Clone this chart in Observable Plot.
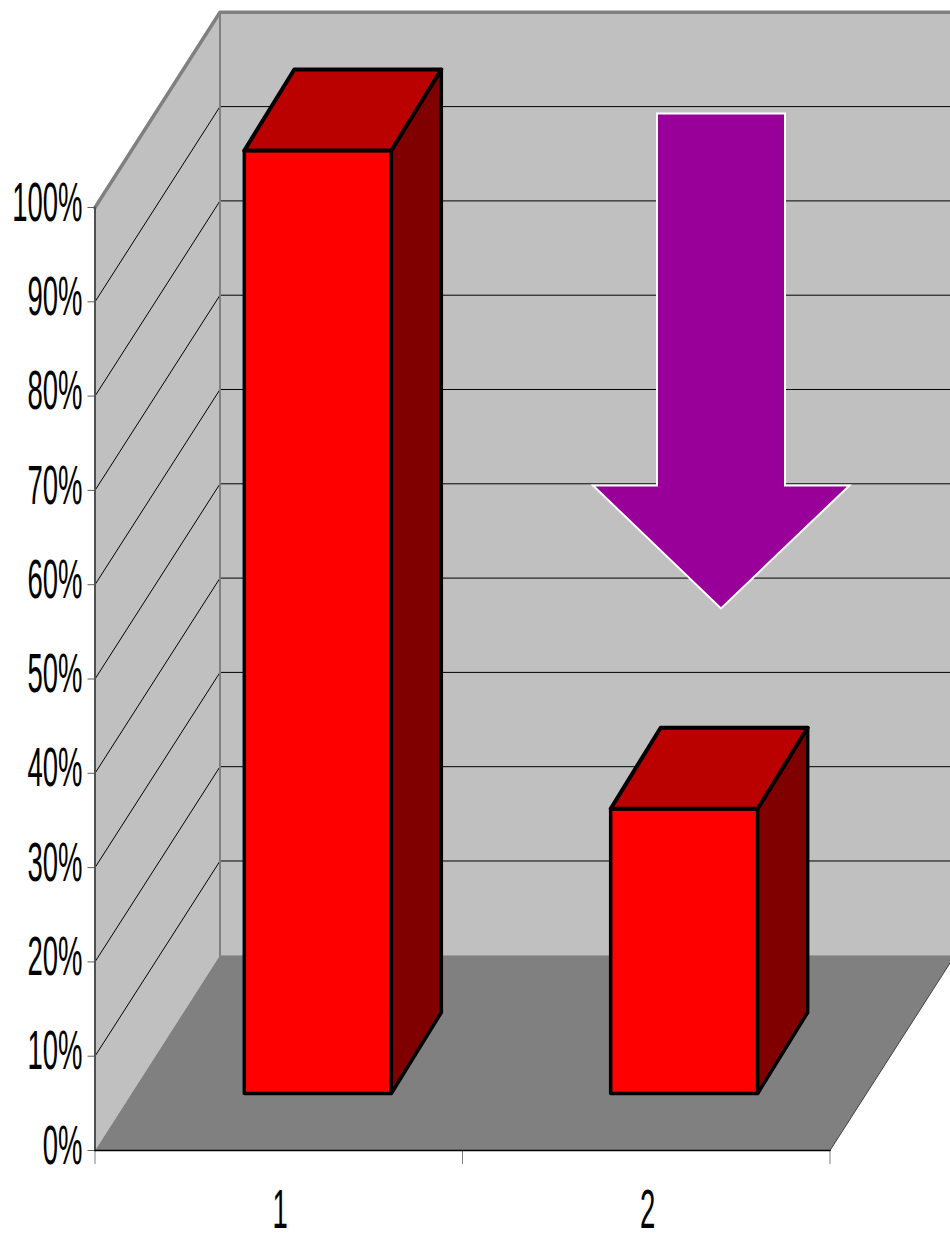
<!DOCTYPE html>
<html>
<head>
<meta charset="utf-8">
<style>
html,body{margin:0;padding:0;background:#fff;overflow:hidden}
svg{display:block}
</style>
<script src="https://cdn.jsdelivr.net/npm/d3@7"></script>
<script src="https://cdn.jsdelivr.net/npm/@observablehq/plot@0.6"></script>
</head>
<body>
<div id="chart"></div>
<script>
const categories = ["1", "2"];
const values = [100, 30.2];
const percentTicks = [0, 10, 20, 30, 40, 50, 60, 70, 80, 90, 100];
const gridValues = [10, 20, 30, 40, 50, 60, 70, 80, 90];
const categoryEdges = [0, 1, 2];
const categoryCenters = [0.5, 1.5];
const arrowX = [1.5293, 1.8776, 1.8776, 2.053, 1.7034, 1.3551, 1.5293];
const arrowY = [109.97, 109.97, 70.52, 70.52, 57.48, 70.52, 70.52];

// oblique projection of the 3-D chart box into the x / y scales
const skewX = 0.3401, skewY = 20.7;
const P = (c, v, d, dx = d) => ({x: c + dx * skewX, y: v + d * skewY});
const barStarts = [0.3070, 1.3039], barWidth = 0.4, barFront = 0.292, barBack = 0.707, barBackX = 0.692;

const poly = (pts, o) => Plot.line(pts, {x: "x", y: "y", curve: "linear-closed", ...o});
const seg = (pts, o) => Plot.line(pts, {x: "x", y: "y", ...o});
const barFaces = values.flatMap((v, i) => {
  const a = barStarts[i], b = a + barWidth;
  const edge = {stroke: "#000", strokeLinejoin: "round"};
  return [
    poly([P(a, 0, barFront), P(b, 0, barFront), P(b, v, barFront), P(a, v, barFront)], {fill: "#ff0000", strokeWidth: 3.5, ...edge}),
    poly([P(b, 0, barFront), P(b, 0, barBack, barBackX), P(b, v, barBack, barBackX), P(b, v, barFront)], {fill: "#800000", strokeWidth: 3.5, ...edge}),
    poly([P(a, v, barFront), P(b, v, barFront), P(b, v, barBack, barBackX), P(a, v, barBack, barBackX)], {fill: "#bb0000", strokeWidth: 4, ...edge})
  ];
});

const textStyle = {fontFamily: "'Liberation Sans', Arial, sans-serif", fontSize: 55, fill: "#000"};

const chart = Plot.plot({
  width: 950, height: 1233,
  marginLeft: 94.5, marginRight: 120.5, marginTop: 207, marginBottom: 83,
  style: {background: "#fff", overflow: "hidden"},
  x: {domain: [0, 2]},
  y: {domain: [0, 100]},
  marks: [
    // walls and floor
    poly([P(0, 0, 1), P(2, 0, 1), P(2, 100, 1), P(0, 100, 1)], {fill: "#c0c0c0"}),
    poly([P(0, 0, 0), P(0, 0, 1), P(0, 100, 1), P(0, 100, 0)], {fill: "#c0c0c0"}),
    poly([P(0, 0, 0), P(2, 0, 0), P(2, 0, 1), P(0, 0, 1)], {fill: "#808080"}),
    // gridlines on both walls
    ...gridValues.map(v => seg([P(0, v, 0), P(0, v, 1), P(2, v, 1)], {stroke: "#000", strokeWidth: 1})),
    // wall edges
    seg([P(0, 100, 0), P(0, 100, 1), P(2, 100, 1)], {stroke: "#808080", strokeWidth: 3.5}),
    seg([P(0, 0, 1), P(0, 100, 1)], {stroke: "#808080", strokeWidth: 2}),
    seg([P(2, 0, 0), P(2, 0, 1)], {stroke: "#404040", strokeWidth: 1}),
    // axes
    Plot.axisY(percentTicks, {anchor: "left", tickSize: 7, stroke: "#606060", label: null, text: null}),
    Plot.axisY(percentTicks, {anchor: "left", tickSize: 0, tickPadding: 12.5, dy: -4.5, label: null, tickFormat: d => d + "%", ...textStyle}),
    seg([P(0, 0, 0), P(0, 100, 0)], {stroke: "#505050", strokeWidth: 2}),
    Plot.axisX(categoryEdges, {anchor: "bottom", tickSize: 14, stroke: "#808080", label: null, text: null}),
    Plot.axisX(categoryCenters, {anchor: "bottom", tickSize: 0, tickPadding: 38, dx: 1.5, label: null, tickFormat: d => categories[d - 0.5], ...textStyle}),
    seg([P(0, 0, 0), P(2, 0, 0)], {stroke: "#000", strokeWidth: 1.5}),
    // bars
    ...barFaces,
    // arrow
    poly(arrowX.map((x, i) => ({x, y: arrowY[i]})), {fill: "#990099", stroke: "#fff", strokeWidth: 2, strokeLinejoin: "miter", strokeMiterlimit: 10})
  ]
});
document.getElementById("chart").append(chart);
// the reference squeezes its labels to half width
chart.querySelectorAll("text").forEach(t => {
  const n = t.getComputedTextLength();
  if (n > 0) { t.setAttribute("textLength", n * 0.5); t.setAttribute("lengthAdjust", "spacingAndGlyphs"); }
});
</script>
</body>
</html>
